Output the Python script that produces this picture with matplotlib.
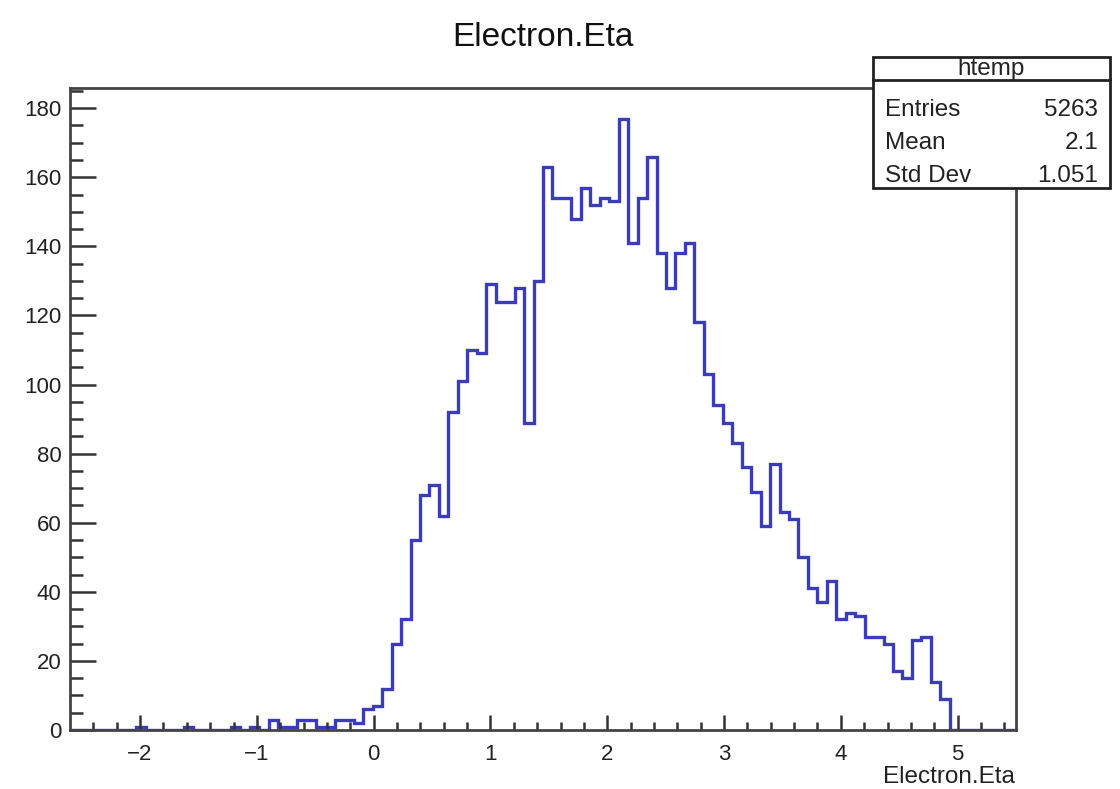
import matplotlib.pyplot as plt
import numpy as np
from matplotlib.patches import Rectangle
from matplotlib.lines import Line2D

plt.rcParams['font.family'] = ['Liberation Sans', 'DejaVu Sans']

# histogram definition (ROOT htemp: 100 bins)
XMIN = -2.6
XMAX = 5.5
NBINS = 100
counts = [0, 0, 0, 0, 0, 0, 0, 1, 0, 0,
          0, 0, 1, 0, 0, 0, 0, 1, 0, 1,
          0, 3, 1, 1, 3, 3, 1, 1, 3, 3,
          2, 6, 7, 12, 25, 32, 55, 68, 71, 62,
          92, 101, 110, 109, 129, 124, 124, 128, 89, 130,
          163, 154, 154, 148, 157, 152, 154, 153, 177, 141,
          154, 166, 138, 128, 138, 141, 118, 103, 94, 89,
          83, 76, 69, 59, 77, 63, 61, 50, 41, 37,
          43, 32, 34, 33, 27, 27, 25, 17, 15, 26,
          27, 14, 9, 0, 0, 0, 0, 0, 0, 0]
title = "Electron.Eta"
stat_name = "htemp"
stat_labels = ["Entries", "Mean", "Std Dev"]
stat_values = ["5263", "2.1", "1.051"]

edges = np.linspace(XMIN, XMAX, NBINS + 1)
ymax = max(counts) * 1.05

FS = 16
SFS = 17.5
fig = plt.figure(figsize=(11.2, 7.89), dpi=100)
ax = fig.add_axes([70/1120, 1-730/789, (1016-70)/1120, (730-88)/789])
ax.stairs(counts, edges, baseline=0, color='#3b3bbd', linewidth=2.4)
ax.set_xlim(XMIN, XMAX)
ax.set_ylim(0, ymax)
ax.set_xticks(np.arange(-2, 6, 1))
ax.set_xticks(np.arange(-2.4, 5.5, 0.2), minor=True)
ax.set_yticks(np.arange(0, 181, 20))
ax.set_yticks(np.arange(0, 186, 5), minor=True)
ax.tick_params(axis='x', which='major', direction='in', length=11, width=1.8, labelsize=FS, pad=10, colors='#333333', labelcolor='#222222')
ax.tick_params(axis='x', which='minor', direction='in', length=5.5, width=1.8, colors='#333333')
ax.tick_params(axis='y', which='major', direction='in', length=19, width=1.8, labelsize=FS, pad=6, colors='#333333', labelcolor='#222222')
ax.tick_params(axis='y', which='minor', direction='in', length=9.5, width=1.8, colors='#333333')
for s in ax.spines.values():
    s.set_linewidth(2)
    s.set_color('#444444')

fig.text(543/1120, 1-38/789, title, ha='center', va='center', fontsize=24, color='#111111')
fig.text(1015/1120, 1-777/789, title, ha='right', va='center', fontsize=17.5, color='#222222')

# stats box
bx0, bx1, by0, by1, bh = 873, 1110, 57, 188, 80
fig.patches.append(Rectangle((bx0/1120, 1-by1/789), (bx1-bx0)/1120, (by1-by0)/789,
                             transform=fig.transFigure, facecolor='white', edgecolor='#222222',
                             linewidth=2, zorder=5))
fig.lines.append(Line2D([bx0/1120, bx1/1120], [1-bh/789, 1-bh/789], transform=fig.transFigure,
                        color='#222222', linewidth=2, zorder=6))
fig.text((bx0+bx1)/2/1120, 1-69/789, stat_name, ha='center', va='center', fontsize=SFS, zorder=7, color='#222222')
for i, (lab, val) in enumerate(zip(stat_labels, stat_values)):
    yy = 1-(110+33*i)/789
    fig.text(885/1120, yy, lab, ha='left', va='center', fontsize=SFS, zorder=7, color='#222222')
    fig.text(1098/1120, yy, val, ha='right', va='center', fontsize=SFS, zorder=7, color='#222222')

fig.savefig('out.png', dpi=100)
